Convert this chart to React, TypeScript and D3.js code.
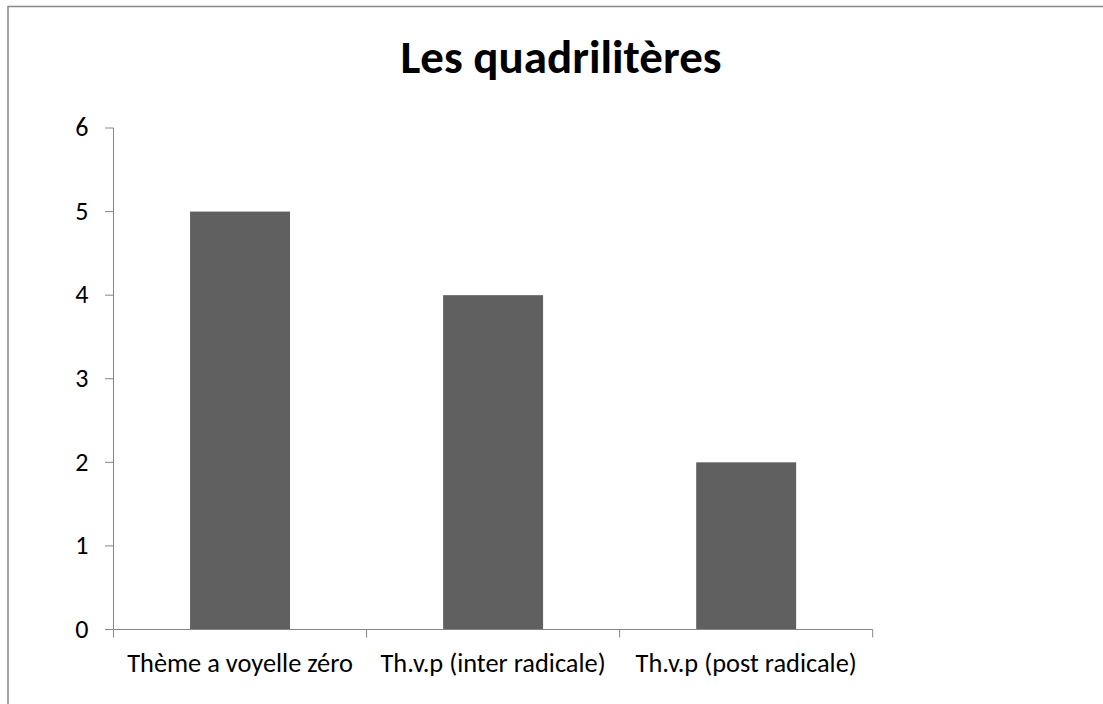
import React from "react";
import * as d3 from "d3";

const categories = ["Thème a voyelle zéro", "Th.v.p (inter radicale)", "Th.v.p (post radicale)"];
const values = [5, 4, 2];
const yTicks = [0, 1, 2, 3, 4, 5, 6];
const title = "Les quadrilitères";

const W = 1103;
const H = 704;
const left = 113.5;
const right = 872.7;
const top = 128;
const bottom = 629.5;
const axisColor = "#868686";
const barColor = "#606060";
const font = "Carlito, Calibri, 'Open Sans', sans-serif";

export default function App() {
  const x = d3.scaleBand<string>().domain(categories).range([left, right]).paddingInner(0.605).paddingOuter(0.3025);
  const y = d3.scaleLinear().domain([0, 6]).range([bottom, top]);
  const step = x.step();
  const bounds = d3.range(categories.length + 1).map((i) => left + i * step);

  return (
    <svg width={W} height={H} style={{ position: "absolute", left: 0, top: 0, background: "#fff" }}>
      <rect x={8} y={6.5} width={W + 10} height={H + 10} fill="#fff" stroke="#888" strokeWidth={1.5} />
      <text x={561} y={73} textAnchor="middle" fontFamily={font} fontWeight="bold" fontSize={47} fill="#000">
        {title}
      </text>
      {categories.map((c, i) => (
        <rect key={c} x={x(c)} y={y(values[i])} width={x.bandwidth()} height={y(0) - y(values[i])} fill={barColor} />
      ))}
      <line x1={left} x2={left} y1={top} y2={bottom} stroke={axisColor} strokeWidth={1} />
      <line x1={left} x2={right} y1={bottom} y2={bottom} stroke={axisColor} strokeWidth={1} />
      {yTicks.map((t) => (
        <g key={t}>
          <line x1={left - 8.5} x2={left} y1={y(t)} y2={y(t)} stroke={axisColor} strokeWidth={1} />
          <text x={88.5} y={y(t)} dy="0.32em" textAnchor="end" fontFamily={font} fontSize={26} fill="#000">
            {t}
          </text>
        </g>
      ))}
      {bounds.map((b, i) => (
        <line key={i} x1={b} x2={b} y1={bottom} y2={bottom + 8} stroke={axisColor} strokeWidth={1} />
      ))}
      {categories.map((c) => (
        <text key={c} x={(x(c) as number) + x.bandwidth() / 2} y={672} textAnchor="middle" fontFamily={font} fontSize={26.4} fill="#000">
          {c}
        </text>
      ))}
    </svg>
  );
}
